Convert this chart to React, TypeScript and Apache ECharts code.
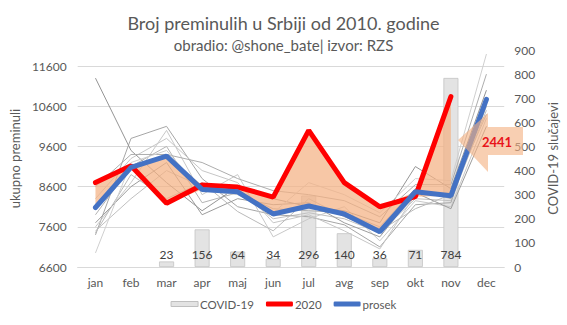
import React, { useEffect, useRef } from "react";
import * as echarts from "echarts";

const months = ["jan", "feb", "mar", "apr", "maj", "jun", "jul", "avg", "sep", "okt", "nov", "dec"];

const covid: (number | null)[] = [null, null, 23, 156, 64, 34, 296, 140, 36, 71, 784, null];

const y2020: (number | null)[] = [8700, 9120, 8185, 8640, 8590, 8340, 10000, 8700, 8100, 8350, 10840, null];
const prosek: number[] = [8080, 9080, 9360, 8530, 8470, 7920, 8117, 7918, 7478, 8473, 8374, 10771];

const years = ["2010", "2011", "2012", "2013", "2014", "2015", "2016", "2017", "2018", "2019"];
const y2010 = [7500, 8300, 9000, 8600, 8500, 7800, 7950, 7800, 7450, 8300, 8250, 10500];
const y2011 = [7900, 9100, 9600, 8200, 8450, 8050, 8000, 7950, 7600, 8550, 8300, 10600];
const y2012 = [7400, 9800, 10100, 8800, 8100, 7900, 7850, 7650, 7100, 8150, 8200, 10800];
const y2013 = [7600, 8700, 10000, 8400, 8900, 7350, 7800, 8100, 7250, 8250, 8100, 10300];
const y2014 = [7700, 8600, 9200, 7900, 8300, 8150, 8200, 7700, 7350, 8450, 8050, 10100];
const y2015 = [8300, 9300, 9800, 9000, 8700, 7700, 7900, 7500, 7050, 8400, 8450, 10700];
const y2016 = [7450, 8900, 8300, 8700, 7980, 7500, 8300, 7850, 7500, 8050, 8400, 10400];
const y2017 = [11300, 9500, 8700, 8000, 8600, 8300, 8100, 8000, 7700, 9100, 8550, 11000];
const y2018 = [8600, 9400, 9400, 9200, 8800, 8500, 8400, 8250, 7850, 8650, 8650, 11400];
const y2019 = [6950, 9200, 9500, 8500, 8400, 7950, 8700, 8400, 7950, 8800, 8750, 11900];
const yearData = [y2010, y2011, y2012, y2013, y2014, y2015, y2016, y2017, y2018, y2019];
const yearColors = ["#c0c0c0", "#b3b3b3", "#a6a6a6", "#c8c8c8", "#9c9c9c", "#c6c6c6", "#bababa", "#959595", "#adadad", "#cfcfcf"];

const leftTicks = { min: 6600, max: 12000, interval: 1000 };
const rightTicks = { min: 0, max: 900, interval: 100 };

const FONT = "Lato, 'Open Sans', sans-serif";
const TXT = "#595959";

export default function App() {
  const ref = useRef<HTMLDivElement>(null);
  useEffect(() => {
    if (!ref.current) return;
    const chart = echarts.init(ref.current, undefined, { renderer: "svg" });

    const fillBase = y2020.map((r, i) => (r == null ? "-" : Math.min(r, prosek[i])));
    const fillDiff = y2020.map((r, i) => (r == null ? "-" : Math.abs(r - prosek[i])));

    const grayLines = years.map((name, k) => ({
      name,
      type: "line",
      yAxisIndex: 0,
      data: yearData[k],
      symbol: "none",
      silent: true,
      lineStyle: { color: yearColors[k], width: 1 },
      z: 2,
    }));

    chart.setOption({
      animation: false,
      textStyle: { fontFamily: FONT },
      title: {
        text: "Broj preminulih u Srbiji od 2010. godine",
        subtext: "obradio: @shone_bate| izvor: RZS",
        left: "center",
        top: 9,
        itemGap: 5,
        textStyle: { fontSize: 18, fontWeight: "normal", color: TXT, fontFamily: FONT },
        subtextStyle: { fontSize: 15, color: TXT, fontFamily: FONT },
      },
      legend: {
        data: [
          { name: "COVID-19", icon: "rect", itemStyle: { color: "#e3e3e3", borderColor: "#bfbfbf", borderWidth: 1 } },
          { name: "2020", icon: "roundRect" },
          { name: "prosek", icon: "roundRect" },
        ],
        bottom: 10,
        left: "center",
        itemWidth: 27,
        itemHeight: 5,
        itemGap: 12,
        textStyle: { fontSize: 11.5, color: TXT, fontFamily: FONT, padding: [0, 0, 0, -3] },
      },
      grid: { left: 66, right: 55, top: 50, bottom: 58 },
      xAxis: {
        type: "category",
        data: months,
        axisLine: { lineStyle: { color: "#d9d9d9" } },
        axisTick: { show: false },
        axisLabel: { color: TXT, fontSize: 12, margin: 9, fontFamily: FONT },
      },
      yAxis: [
        {
          type: "value",
          min: leftTicks.min,
          max: leftTicks.max,
          interval: leftTicks.interval,
          name: "ukupno preminuli",
          nameLocation: "middle",
          nameRotate: 90,
          nameGap: 46,
          nameTextStyle: { color: TXT, fontSize: 13, fontFamily: FONT },
          axisLine: { show: false },
          axisTick: { show: false },
          axisLabel: {
            color: TXT,
            fontSize: 12,
            margin: 11,
            fontFamily: FONT,
            showMaxLabel: false,
            formatter: (v: number) => ((v - leftTicks.min) % leftTicks.interval === 0 ? String(v) : ""),
          },
          splitLine: {
            lineStyle: {
              color: ["#d9d9d9", "#d9d9d9", "#d9d9d9", "#d9d9d9", "#d9d9d9", "#d9d9d9", "rgba(0,0,0,0)"],
              width: 1,
            },
          },
        },
        {
          type: "value",
          position: "right",
          min: rightTicks.min,
          max: rightTicks.max,
          interval: rightTicks.interval,
          name: "COVID-19 slučajevi",
          nameLocation: "middle",
          nameRotate: 90,
          nameGap: 36,
          nameTextStyle: { color: TXT, fontSize: 13, fontFamily: FONT },
          axisLine: { show: false },
          axisTick: { show: false },
          axisLabel: { color: TXT, fontSize: 12, margin: 10, fontFamily: FONT },
          splitLine: { show: false },
        },
      ],
      series: [
        {
          name: "COVID-19",
          type: "bar",
          yAxisIndex: 1,
          data: covid,
          barWidth: 15,
          itemStyle: { color: "#e3e3e3", borderColor: "#c4c4c4", borderWidth: 0.8 },
          label: {
            show: true,
            position: "insideBottom",
            distance: 7,
            color: "#404040",
            fontSize: 12,
            fontFamily: FONT,
          },
          z: 1,
        },
        ...grayLines,
        {
          name: "fillBase",
          type: "line",
          yAxisIndex: 0,
          stack: "fill",
          data: fillBase,
          symbol: "none",
          silent: true,
          lineStyle: { opacity: 0 },
          z: 3,
        },
        {
          name: "fillDiff",
          type: "line",
          yAxisIndex: 0,
          stack: "fill",
          data: fillDiff,
          symbol: "none",
          silent: true,
          lineStyle: { opacity: 0 },
          areaStyle: { color: "#f4b183", opacity: 0.72 },
          z: 3,
        },
        {
          name: "2020",
          type: "line",
          yAxisIndex: 0,
          data: y2020,
          symbol: "none",
          itemStyle: { color: "#ff0000" },
          lineStyle: { color: "#ff0000", width: 5, cap: "round" },
          z: 4,
        },
        {
          name: "prosek",
          type: "line",
          yAxisIndex: 0,
          data: prosek,
          symbol: "none",
          itemStyle: { color: "#4472c4" },
          lineStyle: { color: "#4472c4", width: 5, cap: "round" },
          z: 5,
        },
      ],
      graphic: [
        {
          type: "polygon",
          z: 10,
          shape: {
            points: [
              [458, 140],
              [488, 113],
              [488, 127],
              [523, 127],
              [523, 155],
              [488, 155],
              [488, 172],
            ],
          },
          style: { fill: "rgba(244,177,131,0.62)" },
        },
        {
          type: "text",
          z: 11,
          x: 497,
          y: 142,
          style: {
            text: "2441",
            fill: "#e8141a",
            font: "bold 13px Lato, sans-serif",
            textAlign: "center",
            textVerticalAlign: "middle",
          },
        },
      ],
    });
    return () => chart.dispose();
  }, []);
  return <div ref={ref} style={{ position: "fixed", left: 0, top: 0, width: 567, height: 325, background: "#fff" }} />;
}
